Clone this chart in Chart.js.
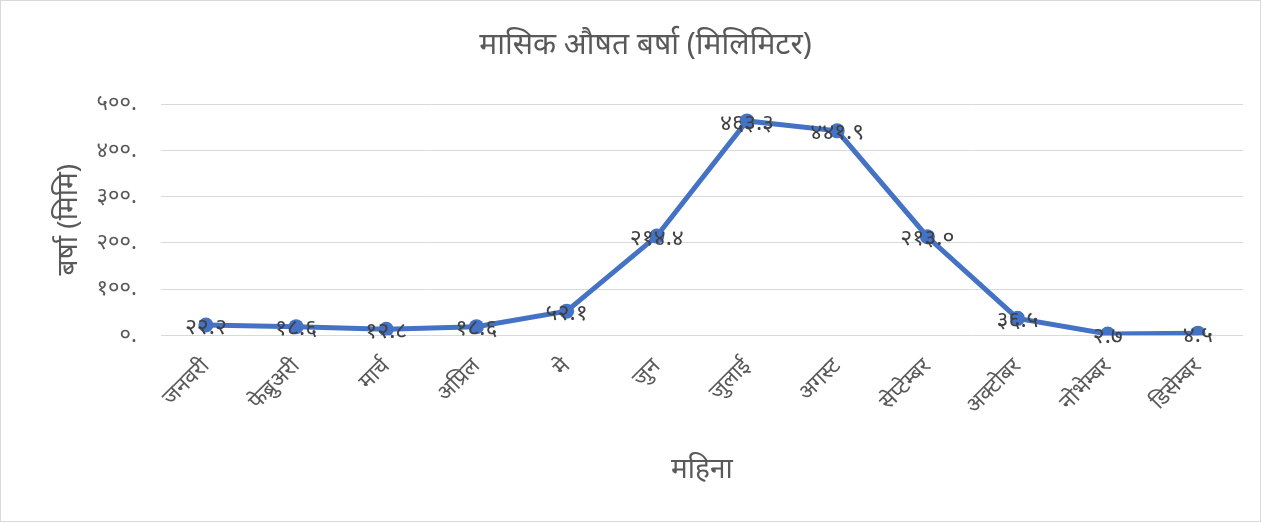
<!DOCTYPE html>
<html>
<head>
<meta charset="utf-8">
<script src="https://cdn.jsdelivr.net/npm/chart.js@4/dist/chart.umd.min.js"></script>
<style>
html,body{margin:0;padding:0;background:#fff;}
#wrap{width:1262px;height:524px;position:relative;}
</style>
</head>
<body>
<div id="wrap"><canvas id="c" width="1262" height="524"></canvas></div>
<script>
const months = ['जनवरी','फेब्रुअरी','मार्च','अप्रिल','मे','जुन','जुलाई','अगस्ट','सेप्टेम्बर','अक्टोबर','नोभेम्बर','डिसेम्बर'];
const rainfall = [22.2, 18.6, 12.8, 18.6, 52.1, 214.4, 463.3, 441.9, 213.0, 36.5, 2.7, 4.5];
const dataLabels = ['२२.२','१८.६','१२.८','१८.६','५२.१','२१४.४','४६३.३','४४१.९','२१३.०','३६.५','२.७','४.५'];
const yTickValues = [0, 100, 200, 300, 400, 500];
const yTickLabels = ['०.','१००.','२००.','३००.','४००.','५००.'];
const chartTitle = 'मासिक औषत बर्षा (मिलिमिटर)';
const xTitle = 'महिना';
const yTitle = 'बर्षा (मिमि)';

const FONT = "'Noto Sans', 'Noto Sans Devanagari', sans-serif";

const borderPlugin = {
  id: 'outerBorder',
  beforeDraw(chart) {
    const ctx = chart.ctx;
    ctx.save();
    ctx.fillStyle = '#fff';
    ctx.fillRect(0, 0, chart.width, chart.height);
    ctx.strokeStyle = '#d9d9d9';
    ctx.lineWidth = 1;
    ctx.strokeRect(0.5, 0.5, chart.width - 2, chart.height - 3);
    ctx.restore();
  }
};

const labelPlugin = {
  id: 'pointLabels',
  afterDatasetsDraw(chart) {
    const ctx = chart.ctx;
    const meta = chart.getDatasetMeta(0);
    ctx.save();
    ctx.font = '23px ' + FONT;
    ctx.fillStyle = '#404040';
    ctx.textAlign = 'center';
    ctx.textBaseline = 'middle';
    meta.data.forEach((pt, i) => {
      ctx.fillText(dataLabels[i], pt.x, pt.y + 2);
    });
    ctx.restore();
  }
};

new Chart(document.getElementById('c'), {
  type: 'line',
  data: {
    labels: months,
    datasets: [{
      data: rainfall,
      borderColor: '#4472C4',
      backgroundColor: '#4472C4',
      borderWidth: 5,
      pointRadius: 7.5,
      pointHoverRadius: 7.5,
      pointBackgroundColor: '#4472C4',
      pointBorderWidth: 0,
      tension: 0,
      fill: false
    }]
  },
  options: {
    responsive: false,
    animation: false,
    layout: { padding: { left: 48, right: 19, top: 0, bottom: 33 } },
    plugins: {
      legend: { display: false },
      tooltip: { enabled: false },
      title: {
        display: true,
        text: chartTitle,
        color: '#595959',
        font: { family: FONT, size: 30, weight: 'normal' },
        padding: { top: 27, bottom: 41 }
      }
    },
    scales: {
      x: {
        offset: true,
        grid: { display: false },
        border: { display: false },
        ticks: {
          color: '#595959',
          font: { family: FONT, size: 22 },
          minRotation: 45,
          maxRotation: 45,
          autoSkip: false,
          padding: 10
        },
        title: {
          display: true,
          text: xTitle,
          color: '#595959',
          font: { family: FONT, size: 28 },
          padding: { top: 24 }
        }
      },
      y: {
        min: 0,
        max: 500,
        afterBuildTicks(scale) { scale.ticks = yTickValues.map(v => ({ value: v })); },
        grid: { color: '#d9d9d9', lineWidth: 1, drawTicks: false },
        border: { display: false },
        ticks: {
          color: '#595959',
          font: { family: FONT, size: 22 },
          padding: 24,
          callback: (v) => yTickLabels[yTickValues.indexOf(v)]
        },
        title: {
          display: true,
          text: yTitle,
          color: '#595959',
          font: { family: FONT, size: 28 },
          padding: { top: 4, bottom: -13 }
        }
      }
    }
  },
  plugins: [borderPlugin, labelPlugin]
});
</script>
</body>
</html>
